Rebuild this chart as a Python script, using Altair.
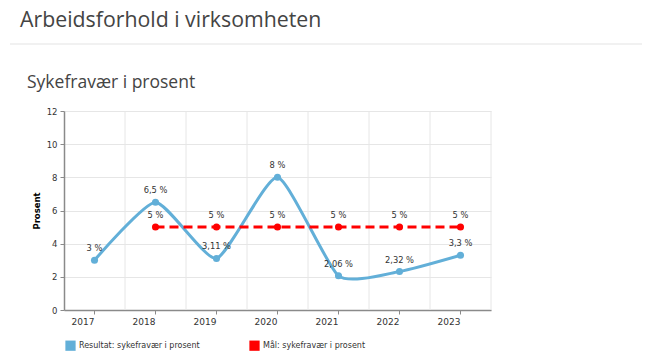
import altair as alt
import pandas as pd

# ---- data ----
years = ["2017", "2018", "2019", "2020", "2021", "2022", "2023"]
resultat = [3, 6.5, 3.11, 8, 2.06, 2.32, 3.3]
maal = [None, 5, 5, 5, 5, 5, 5]
series_names = ["Resultat: sykefravær i prosent", "Mål: sykefravær i prosent"]
y_ticks = [0, 2, 4, 6, 8, 10, 12]
page_title = "Arbeidsforhold i virksomheten"
chart_title = "Sykefravær i prosent"
y_title = "Prosent"

BLUE = "#62afd8"
RED = "#ff0000"


def fmt(v):
    return f"{v:g}".replace(".", ",") + " %"


rows = []
for name, vals in zip(series_names, [resultat, maal]):
    for yr, v in zip(years, vals):
        if v is not None:
            rows.append({"year": yr, "series": name, "value": v, "label": fmt(v)})
df = pd.DataFrame(rows)
grid_df = pd.DataFrame({"year": years})

xscale = alt.Scale(type="band", paddingInner=0, paddingOuter=0, domain=years)
yscale = alt.Scale(domain=[0, 12], nice=False)
cscale = alt.Scale(domain=series_names, range=[BLUE, RED])

X = alt.X(
    "year:O",
    scale=xscale,
    bandPosition=0.5,
    axis=alt.Axis(
        title=None,
        labelAngle=0,
        grid=False,
        labelFont="DejaVu Sans",
        labelFontSize=9,
        labelColor="#333333",
        domainColor="#8a8a8a",
        domainWidth=1.5,
        tickColor="#8a8a8a",
        tickSize=4,
        labelPadding=7,
    ),
)
Y = alt.Y(
    "value:Q",
    scale=yscale,
    axis=alt.Axis(
        title=y_title,
        values=y_ticks,
        grid=True,
        gridColor="#e6e6e6",
        labelFont="DejaVu Sans",
        labelFontSize=8.5,
        labelColor="#333333",
        domainColor="#8a8a8a",
        domainWidth=1.5,
        tickColor="#8a8a8a",
        tickSize=4,
        labelPadding=3,
        titleFont="DejaVu Sans",
        titleFontSize=8.5,
        titleFontWeight="bold",
        titleColor="#000000",
        titlePadding=5,
    ),
)

grid = (
    alt.Chart(grid_df)
    .mark_rule(color="#e6e6e6", strokeWidth=1)
    .encode(x=alt.X("year:O", scale=xscale, bandPosition=1))
)

base = alt.Chart(df)

line_res = (
    base.transform_filter(alt.datum.series == series_names[0])
    .mark_line(interpolate="cardinal", tension=0.45, color=BLUE, strokeWidth=3)
    .encode(x=X, y=Y)
)
line_maal = (
    base.transform_filter(alt.datum.series == series_names[1])
    .mark_line(color=RED, strokeWidth=3, strokeDash=[9, 5])
    .encode(x=X, y=Y)
)
points = (
    base.mark_point(filled=True, size=50, opacity=1)
    .encode(
        x=X,
        y=Y,
        color=alt.Color(
            "series:N",
            scale=cscale,
            sort=series_names,
            legend=alt.Legend(
                title=None,
                orient="none",
                legendX=1,
                legendY=229,
                direction="horizontal",
                symbolType="square",
                symbolSize=105,
                symbolStrokeWidth=0,
                symbolOpacity=1,
                labelFont="DejaVu Sans",
                labelFontSize=8,
                labelColor="#333333",
                labelOffset=3,
                columnPadding=49,
                padding=0,
            ),
        ),
    )
)
labels = base.mark_text(
    dy=-11, font="DejaVu Sans", fontSize=8.3, color="#333333"
).encode(x=X, y=Y, text="label:N")

header = (
    alt.Chart(pd.DataFrame({"t": [page_title]}))
    .mark_text(align="left", baseline="alphabetic", font="Open Sans", fontSize=21.3, color="#444444")
    .encode(text="t:N", x=alt.value(-44), y=alt.value(-84))
)
sub = (
    alt.Chart(pd.DataFrame({"t": [chart_title]}))
    .mark_text(align="left", baseline="alphabetic", font="Open Sans", fontSize=17.5, color="#444444")
    .encode(text="t:N", x=alt.value(-37), y=alt.value(-23))
)
sep = (
    alt.Chart(pd.DataFrame({"t": [0]}))
    .mark_rule(color="#e3e3e3", strokeWidth=1)
    .encode(x=alt.value(-54), x2=alt.value(578), y=alt.value(-67))
)

chart = (
    alt.layer(grid, line_res, line_maal, points, labels, header, sub, sep)
    .properties(
        width=427,
        height=199,
        padding={"left": 56, "top": 103, "right": 151, "bottom": 41},
        autosize=alt.AutoSizeParams(type="none"),
        background="white",
    )
    .configure_view(stroke=None)
)

chart.save("out.html", embed_options={"renderer": "svg", "actions": False})
